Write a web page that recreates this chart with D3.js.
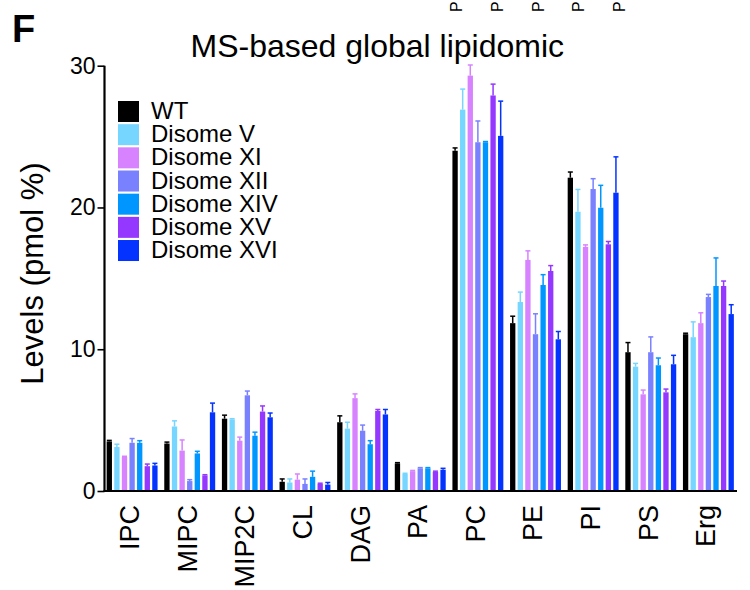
<!DOCTYPE html>
<html>
<head>
<meta charset="utf-8">
<script src="https://cdn.jsdelivr.net/npm/d3@7"></script>
<style>
  html, body { margin: 0; padding: 0; background: #fff; }
  svg { display: block; font-family: "Liberation Sans", Arial, Helvetica, sans-serif; }
</style>
</head>
<body>
<svg id="chart" width="750" height="590"></svg>
<script>
// ---- data ----
const categories = ["IPC", "MIPC", "MIP2C", "CL", "DAG", "PA", "PC", "PE", "PI", "PS", "Erg"];
const seriesNames = ["WT", "Disome V", "Disome XI", "Disome XII", "Disome XIV", "Disome XV", "Disome XVI"];
const seriesColors = ["#000000", "#76D6FF", "#D783FF", "#7A81FF", "#0096FF", "#9437FF", "#0433FF"];

const wt       = [3.5, 3.35, 5.1, 0.65, 4.85, 1.95, 24.0, 11.84, 22.1, 9.79, 11.06];
const wtErr    = [0.07, 0.1, 0.25, 0.2, 0.45, 0.05, 0.2, 0.49, 0.4, 0.68, 0.07];
const disV     = [3.1, 4.55, 5.05, 0.6, 4.4, 1.2, 26.9, 13.33, 19.7, 8.77, 10.85];
const disVErr  = [0.2, 0.4, 0.05, 0.25, 0.45, 0.05, 1.45, 0.7, 1.57, 0.23, 1.08];
const disXI    = [2.4, 2.85, 3.55, 0.8, 6.55, 1.4, 29.3, 16.3, 17.22, 6.82, 11.84];
const disXIErr = [0.05, 0.75, 0.25, 0.4, 0.3, 0.05, 0.75, 0.64, 0.14, 0.3, 0.73];
const disXII   = [3.4, 0.7, 6.75, 0.5, 4.25, 1.6, 24.6, 11.06, 21.3, 9.79, 13.68];
const disXIIErr= [0.3, 0.1, 0.3, 0.35, 0.4, 0.05, 1.5, 1.44, 0.73, 1.08, 0.19];
const disXIV   = [3.4, 2.65, 3.9, 1.0, 3.3, 1.6, 24.6, 14.53, 19.98, 8.87, 14.46];
const disXIVErr= [0.15, 0.15, 0.25, 0.4, 0.25, 0.05, 0.05, 0.73, 1.58, 0.51, 1.98];
const disXV    = [1.75, 1.1, 5.6, 0.5, 5.65, 1.35, 27.9, 15.52, 17.4, 6.96, 14.46];
const disXVErr = [0.15, 0.05, 0.4, 0.05, 0.1, 0.05, 0.8, 0.38, 0.2, 0.23, 0.35];
const disXVI   = [1.8, 5.55, 5.2, 0.45, 5.4, 1.5, 25.05, 10.7, 21.04, 8.94, 12.48];
const disXVIErr= [0.15, 0.65, 0.3, 0.15, 0.35, 0.1, 2.45, 0.55, 2.53, 0.63, 0.66];

const yTicks = [0, 10, 20, 30];
const titleText = "MS-based global lipidomic";
const yTitle = "Levels (pmol %)";
const panelLetter = "F";
const topCroppedLetters = ["P", "P", "P", "P", "P"];

const seriesValues = [wt, disV, disXI, disXII, disXIV, disXV, disXVI];
const seriesErrors = [wtErr, disVErr, disXIErr, disXIIErr, disXIVErr, disXVErr, disXVIErr];

// ---- layout ----
const svg = d3.select("#chart");
const yBase = 491, yTop = 65.7;
const groupStep = 57.63;
const groupBand = 53.2;
const xStart = 105.5;
const xStop = xStart + 11 * groupStep - groupStep * (1 - groupBand / groupStep);

const x0 = d3.scaleBand().domain(categories).range([xStart, xStop])
  .paddingInner(1 - groupBand / groupStep).paddingOuter(0);
const x1 = d3.scaleBand().domain(seriesNames).range([0, x0.bandwidth()])
  .paddingInner(0.3).paddingOuter(0.15);
const y = d3.scaleLinear().domain([0, 30]).range([yBase, yTop]);

// panel letter
svg.append("text").attr("x", 12).attr("y", 41.5)
  .attr("font-size", 38).attr("font-weight", "bold").text(panelLetter);

// cropped rotated letters at the very top (from the panel above)
const topLetterScale = d3.scalePoint().domain(d3.range(topCroppedLetters.length)).range([462, 625]);
topCroppedLetters.forEach((t, i) => {
  svg.append("text")
    .attr("transform", `translate(${topLetterScale(i)},12) rotate(-90)`)
    .attr("font-size", 16).attr("text-anchor", "start").text(t);
});

// title
svg.append("text").attr("x", 190.5).attr("y", 57.3)
  .attr("font-size", 32).text(titleText);

// bars
const groups = svg.append("g").selectAll("g")
  .data(categories)
  .join("g")
  .attr("transform", d => `translate(${x0(d)},0)`);

groups.each(function(cat, ci) {
  const g = d3.select(this);
  seriesNames.forEach((s, si) => {
    const v = seriesValues[si][ci];
    const e = seriesErrors[si][ci];
    const bx = x1(s), bw = x1.bandwidth();
    const cx = bx + bw / 2;
    g.append("line")
      .attr("x1", cx).attr("x2", cx)
      .attr("y1", y(v)).attr("y2", y(v + e))
      .attr("stroke", seriesColors[si]).attr("stroke-width", 1.5);
    g.append("line")
      .attr("x1", cx - 2.5).attr("x2", cx + 2.5)
      .attr("y1", y(v + e)).attr("y2", y(v + e))
      .attr("stroke", seriesColors[si]).attr("stroke-width", 1.5);
    g.append("rect")
      .attr("x", bx).attr("width", bw)
      .attr("y", y(v)).attr("height", y(0) - y(v))
      .attr("fill", seriesColors[si]);
  });
});

// y axis
const yAxis = d3.axisLeft(y).tickValues(yTicks).tickSize(7).tickPadding(2)
  .tickFormat(d3.format("d"));
const yg = svg.append("g").attr("transform", "translate(104.5,0)").call(yAxis);
yg.select(".domain").attr("stroke-width", 2.2).attr("d", `M0,${yTop}V${yBase + 1}`);
yg.selectAll(".tick line").attr("stroke-width", 1.6);
yg.selectAll(".tick text").attr("font-size", 23).attr("fill", "#000")
  .attr("font-family", "'Liberation Sans', Arial, sans-serif");

// x axis
const xAxis = d3.axisBottom(x0).tickSize(0);
const xg = svg.append("g").attr("transform", `translate(0,${yBase})`).call(xAxis);
xg.select(".domain").attr("stroke-width", 2.2).attr("d", "M103.5,0H737");
xg.selectAll(".tick text")
  .attr("font-size", 27).attr("fill", "#000")
  .attr("font-family", "'Liberation Sans', Arial, sans-serif")
  .attr("transform", "rotate(-90)")
  .attr("text-anchor", "end")
  .attr("x", -14).attr("y", -2.5).attr("dy", "0.35em");

// y title
svg.append("text")
  .attr("transform", "translate(42.5,273.5) rotate(-90)")
  .attr("text-anchor", "middle").attr("font-size", 31).text(yTitle);

// legend
const legend = svg.append("g").attr("transform", "translate(118,101)");
seriesNames.forEach((s, i) => {
  const ly = i * 23.17;
  legend.append("rect").attr("x", 0).attr("y", ly).attr("width", 21).attr("height", 21)
    .attr("fill", seriesColors[i]);
  legend.append("text").attr("x", 33).attr("y", ly + 18).attr("font-size", 24).text(s);
});
</script>
</body>
</html>
